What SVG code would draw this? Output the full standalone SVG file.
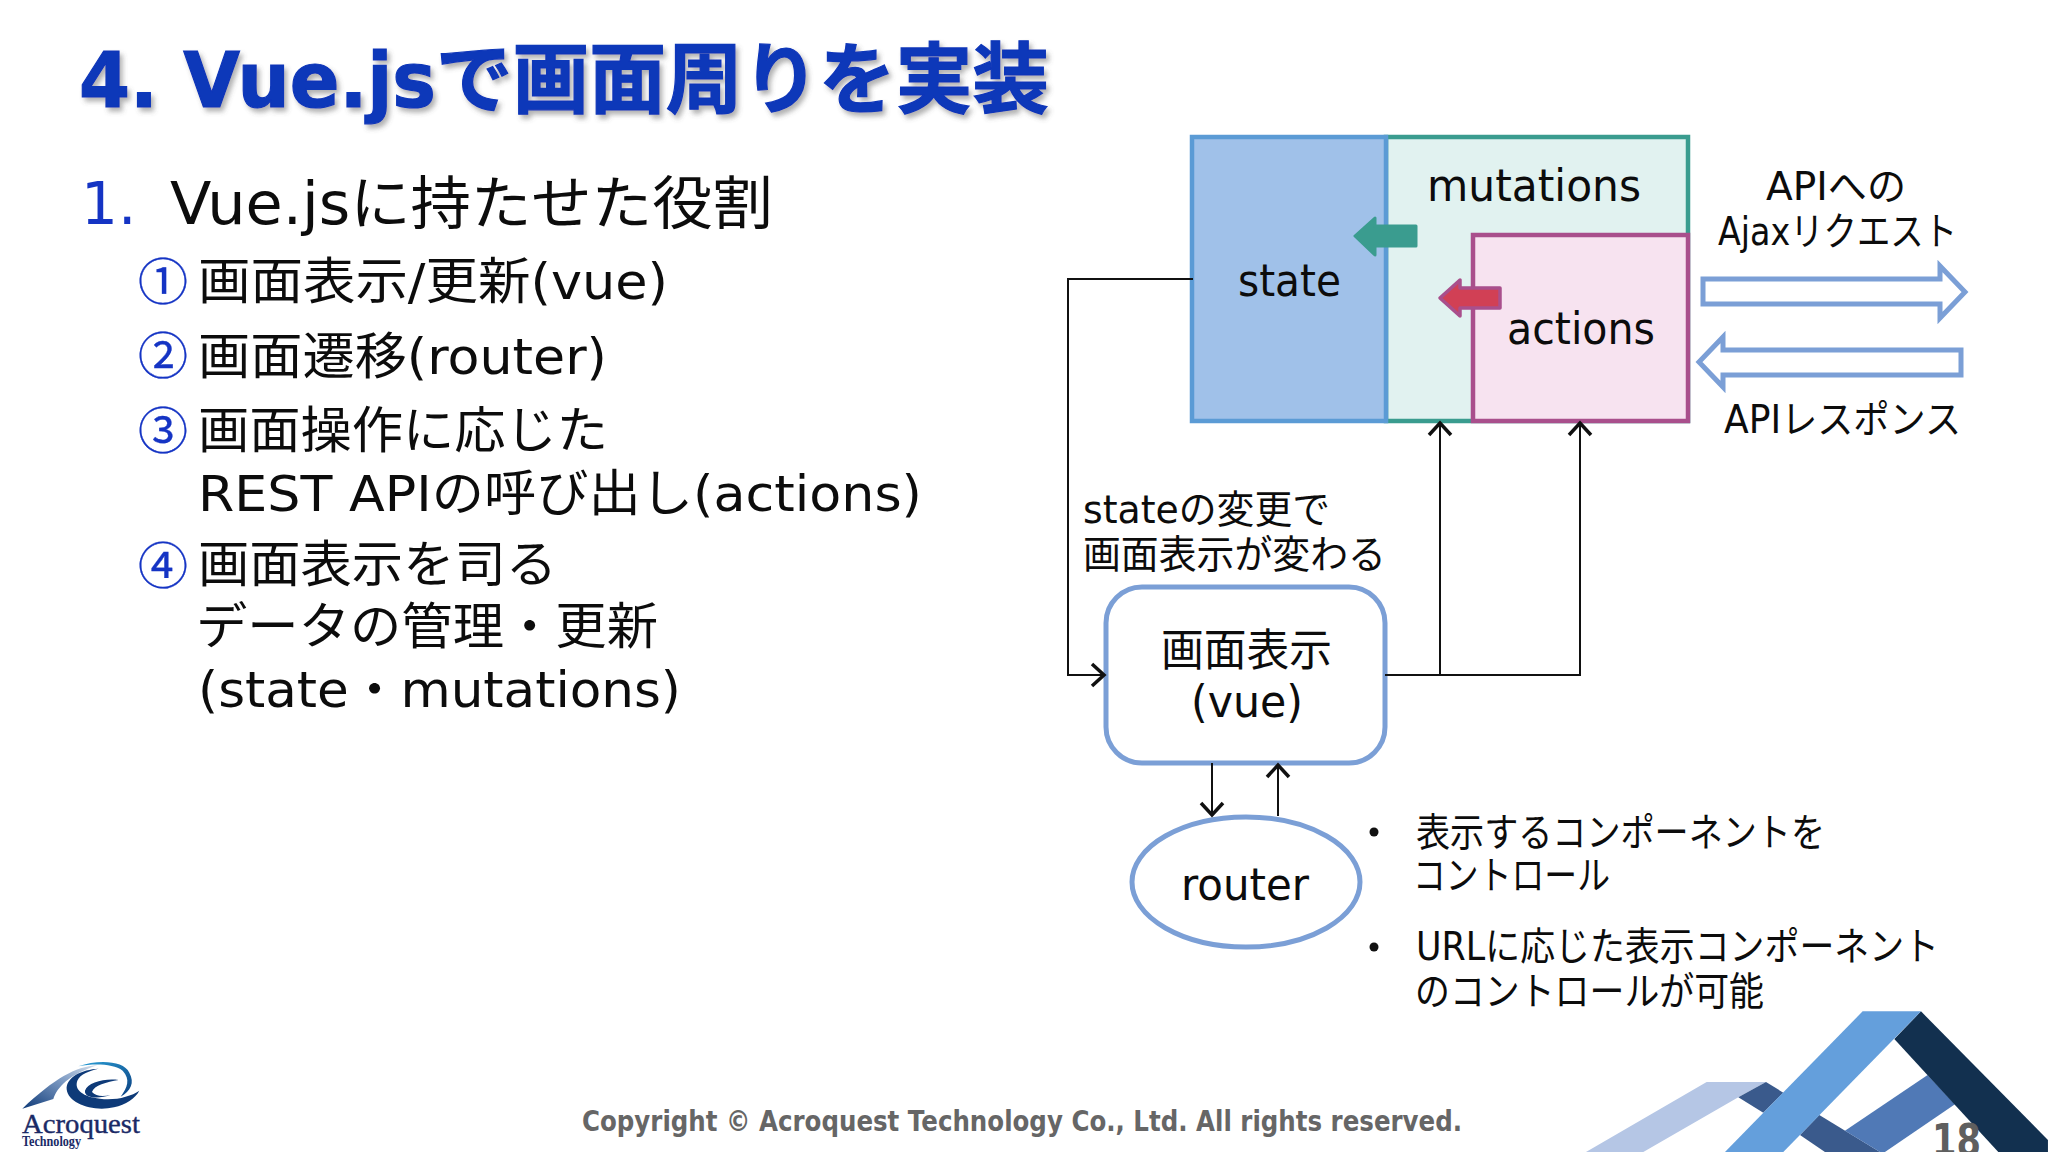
<svg xmlns="http://www.w3.org/2000/svg" width="2048" height="1152" viewBox="0 0 2048 1152">
<style>
text{font-family:"DejaVu Sans","Noto Sans CJK JP",sans-serif;fill:#0c0c0c}
.list{font-size:50px}
.lab{font-size:44px}
.small{font-size:39px}
.circ{font-size:50px;fill:#1534c4;stroke:#1534c4;stroke-width:0.3;font-family:"Noto Sans CJK JP",sans-serif}
.conn{fill:none;stroke:#111;stroke-width:2}
.ol{fill:#fff;stroke:#7b9fd6;stroke-width:5}
</style>
<defs>
<marker id="open" markerUnits="userSpaceOnUse" markerWidth="26" markerHeight="26" refX="20" refY="13" orient="auto"><path d="M8 2 L20 13 L8 24" fill="none" stroke="#111" stroke-width="3.5"/></marker>
<filter id="shadow" x="-5%" y="-20%" width="110%" height="150%"><feDropShadow dx="3" dy="4" stdDeviation="2.5" flood-color="#555" flood-opacity="0.45"/></filter>
<linearGradient id="wing" x1="0" y1="1" x2="1" y2="0"><stop offset="0" stop-color="#0e3a78"/><stop offset="0.6" stop-color="#7f9cc4"/><stop offset="1" stop-color="#d4dfec"/></linearGradient>
<linearGradient id="ring" x1="0" y1="0" x2="1" y2="1"><stop offset="0" stop-color="#2aa0d8"/><stop offset="1" stop-color="#0b3f80"/></linearGradient>
</defs>
<rect width="2048" height="1152" fill="#fff"/>

<g id="title"><text y="107" font-size="77" font-weight="700" style="fill:#0f37b9;stroke:#0f37b9;stroke-width:1.2" filter="url(#shadow)"><tspan x="79" textLength="357" lengthAdjust="spacingAndGlyphs">4. Vue.js</tspan><tspan x="436" textLength="613" lengthAdjust="spacingAndGlyphs">で画面周りを実装</tspan></text></g>

<g id="list">
<text x="81" y="224" font-size="58" style="fill:#1534c4">1.</text>
<text x="170" y="224" font-size="58" textLength="603" lengthAdjust="spacingAndGlyphs">Vue.jsに持たせた役割</text>
<text class="circ" x="163" y="300" text-anchor="middle">①</text>
<text class="list" x="198" y="299" textLength="470" lengthAdjust="spacingAndGlyphs">画面表示/更新(vue)</text>
<text class="circ" x="163" y="374" text-anchor="middle">②</text>
<text class="list" x="198" y="374" textLength="409" lengthAdjust="spacingAndGlyphs">画面遷移(router)</text>
<text class="circ" x="163" y="449" text-anchor="middle">③</text>
<text class="list" x="198" y="448" textLength="410" lengthAdjust="spacingAndGlyphs">画面操作に応じた</text>
<text class="list" x="198" y="511" textLength="724" lengthAdjust="spacingAndGlyphs">REST APIの呼び出し(actions)</text>
<text class="circ" x="163" y="584" text-anchor="middle">④</text>
<text class="list" x="198" y="582" textLength="359" lengthAdjust="spacingAndGlyphs">画面表示を司る</text>
<text class="list" x="196" y="644" textLength="462" lengthAdjust="spacingAndGlyphs">データの管理・更新</text>
<text class="list" x="198" y="707" textLength="483" lengthAdjust="spacingAndGlyphs">(state・mutations)</text>
</g>

<g id="mutations"><rect x="1386" y="137" width="302" height="284" fill="#e1f2f0" stroke="#3a9c8f" stroke-width="4.5"/>
<text class="lab" x="1427" y="201" textLength="214" lengthAdjust="spacingAndGlyphs">mutations</text></g>
<g id="state"><rect x="1192" y="137" width="194" height="284" fill="#a0c1e9" stroke="#5b9bd5" stroke-width="4.5"/>
<text class="lab" x="1238" y="296" textLength="103" lengthAdjust="spacingAndGlyphs">state</text></g>
<g id="actions"><rect x="1473" y="235" width="215" height="186" fill="#f7e3f0" stroke="#a94f8c" stroke-width="4.5"/>
<text class="lab" x="1507" y="344" textLength="148" lengthAdjust="spacingAndGlyphs">actions</text></g>
<path id="teal-arrow" d="M1355 236 L1375 218 V226 H1416 V246 H1375 V255 Z" fill="#3a9c8f" stroke="#3a9c8f" stroke-width="3" stroke-linejoin="round"/>
<path id="red-arrow" d="M1440 298 L1460 280 V288 H1500 V308 H1460 V316 Z" fill="#d14055" stroke="#a94f8c" stroke-width="3.5" stroke-linejoin="round"/>

<g id="vue"><rect x="1106" y="587" width="279" height="176" rx="36" fill="#fff" stroke="#7b9fd6" stroke-width="5"/>
<text class="lab" x="1161" y="666" textLength="171" lengthAdjust="spacingAndGlyphs">画面表示</text>
<text class="lab" x="1191" y="717" textLength="112" lengthAdjust="spacingAndGlyphs">(vue)</text></g>
<g id="router"><ellipse cx="1246" cy="882" rx="114" ry="65" fill="#fff" stroke="#7b9fd6" stroke-width="5"/>
<text class="lab" x="1181" y="900" textLength="128" lengthAdjust="spacingAndGlyphs">router</text></g>

<g id="connectors">
<path class="conn" d="M1193 279 H1068 V675 H1104" marker-end="url(#open)"/>
<path class="conn" d="M1385 675 H1580 V423" marker-end="url(#open)"/>
<path class="conn" d="M1440 675 V423" marker-end="url(#open)"/>
<path class="conn" d="M1212 763 V815" marker-end="url(#open)"/>
<path class="conn" d="M1278 816 V765" marker-end="url(#open)"/>
</g>

<g id="api-request"><path class="ol" d="M1703 279 H1940 V266 L1965 292 L1940 318 V304 H1703 Z"/></g>
<g id="api-response"><path class="ol" d="M1961 350 H1723 V337 L1699 362 L1723 387 V375 H1961 Z"/></g>
<g id="labels">
<text class="small" x="1766" y="200" textLength="140" lengthAdjust="spacingAndGlyphs">APIへの</text>
<text class="small" x="1718" y="245" textLength="239" lengthAdjust="spacingAndGlyphs">Ajaxリクエスト</text>
<text class="small" x="1724" y="433" textLength="237" lengthAdjust="spacingAndGlyphs">APIレスポンス</text>
<text class="small" x="1083" y="523" textLength="247" lengthAdjust="spacingAndGlyphs">stateの変更で</text>
<text class="small" x="1083" y="568" textLength="303" lengthAdjust="spacingAndGlyphs">画面表示が変わる</text>
<circle cx="1374" cy="832" r="4.5" fill="#111"/>
<text class="small" x="1416" y="846" textLength="409" lengthAdjust="spacingAndGlyphs">表示するコンポーネントを</text>
<text class="small" x="1413" y="889" textLength="197" lengthAdjust="spacingAndGlyphs">コントロール</text>
<circle cx="1374" cy="947" r="4.5" fill="#111"/>
<text class="small" x="1416" y="960" textLength="523" lengthAdjust="spacingAndGlyphs">URLに応じた表示コンポーネント</text>
<text class="small" x="1415" y="1005" textLength="349" lengthAdjust="spacingAndGlyphs">のコントロールが可能</text>
</g>

<g id="logo" transform="translate(0 1000) scale(0.3333)">
<path d="M67 326 L160 297 C172 262 205 225 292 196 C225 200 165 235 67 326 Z" fill="url(#wing)"/>
<path d="M235 199 C295 178 372 182 388 218 C405 248 392 272 362 290 C382 262 392 238 368 212 C340 192 285 190 235 199 Z" fill="url(#ring)"/>
<path d="M200 268 C205 312 280 336 342 322 C378 314 405 296 418 272 C392 290 345 302 300 296 C250 290 222 270 232 242 C240 222 270 212 296 206 C245 208 198 232 200 268 Z" fill="#0e3a78"/>
<path d="M255 272 C262 246 318 234 356 240 C320 246 282 256 276 276 C288 290 312 290 332 284 C300 297 252 296 255 272 Z" fill="#0e3a78"/>
</g>
<g id="logo-text">
<text x="22" y="1133" font-size="27" style="font-family:'Liberation Serif',serif;fill:#1a2a66;stroke:#1a2a66;stroke-width:0.4" textLength="118" lengthAdjust="spacingAndGlyphs">Acroquest</text>
<text x="22" y="1146" font-size="14" style="font-family:'Liberation Serif',serif;fill:#1a2a66" font-weight="700" textLength="59" lengthAdjust="spacingAndGlyphs">Technology</text>
</g>

<g id="decor" transform="translate(1550 990) scale(0.3333)">
<path d="M470 276 H648 L565 322 L280 486 H108 Z" fill="#b5c6e5"/>
<path d="M648 276 L700 308 L640 368 L565 322 Z" fill="#3a5a8c"/>
<path d="M808 375 L990 486 H825 L750 435 Z" fill="#3a5a8c"/>
<path d="M1133 255 L1215 343 L1005 486 H990 L885 422 Z" fill="#5079b6"/>
<path d="M1113 64 L1494 450 V486 H1345 L1033 147 Z" fill="#12304f"/>
<path d="M938 64 H1113 L700 486 H525 Z" fill="#649fdc"/>
</g>

<g id="footer">
<text x="582" y="1131" font-size="28" font-weight="700" style="fill:#666" textLength="880" lengthAdjust="spacingAndGlyphs">Copyright © Acroquest Technology Co., Ltd. All rights reserved.</text>
<text x="1932" y="1156" font-size="44" font-weight="700" style="fill:#5f5f5f" textLength="49" lengthAdjust="spacingAndGlyphs">18</text>
</g>
</svg>
